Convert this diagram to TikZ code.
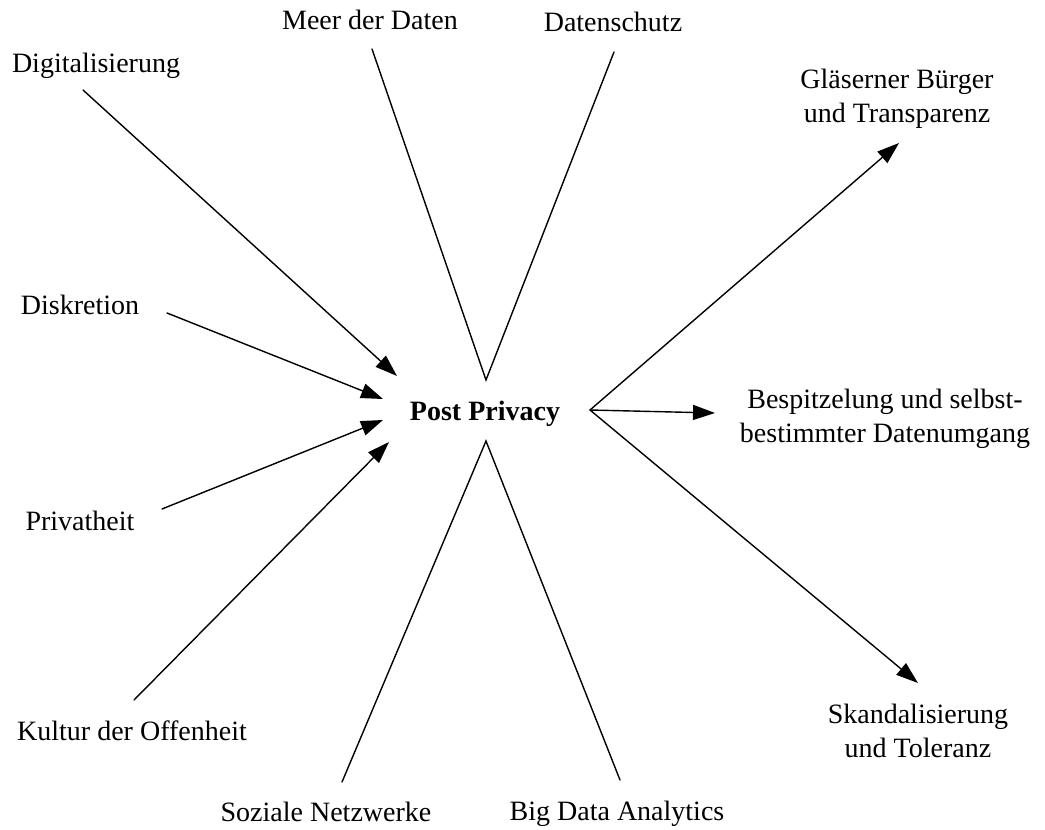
\documentclass[tikz,border=0pt]{standalone}
\usepackage{fontspec}
\setmainfont{Liberation Serif}
\usetikzlibrary{arrows.meta}
\begin{document}
\begin{tikzpicture}[x=1pt,y=-1pt,
  term/.style={inner sep=0pt, font=\fontsize{28}{34}\selectfont, align=center, anchor=base},
  core/.style={term, font=\fontsize{28}{34}\selectfont\bfseries},
  link/.style={line width=1.4pt, draw=black, line cap=round},
  flow/.style={link, -{Triangle[length=22pt,width=15pt]}}]
\useasboundingbox (0,0) rectangle (1045,830);

% central concept
\node[core] (pp) at (485,420) {Post Privacy};

% influencing terms
\node[term] (dig) at (96,72) {Digitalisierung};
\node[term] (meer) at (370,29) {Meer der Daten};
\node[term] (dschutz) at (613,31) {Datenschutz};
\node[term] (dis) at (80,314) {Diskretion};
\node[term] (pri) at (80,530) {Privatheit};
\node[term] (kul) at (132,740) {Kultur der Offenheit};
\node[term] (soz) at (326,821) {Soziale Netzwerke};
\node[term] (big) at (617,820) {Big Data Analytics};

% consequences (base anchor sits on the last line)
\node[term] (gla) at (897,122) {Gläserner Bürger\\und Transparenz};
\node[term] (bes) at (885,442) {Bespitzelung und selbst-\\bestimmter Datenumgang};
\node[term] (ska) at (918,757) {Skandalisierung\\und Toleranz};

% connector end points
\coordinate (dig-s) at (83,90);   \coordinate (dig-t) at (397,376);
\coordinate (dis-s) at (167,313); \coordinate (dis-t) at (383,399);
\coordinate (pri-s) at (162,509); \coordinate (pri-t) at (383,420);
\coordinate (kul-s) at (134,700); \coordinate (kul-t) at (389,442);
\coordinate (top-apex) at (486,380);
\coordinate (meer-s) at (372,49); \coordinate (dschutz-s) at (614,52);
\coordinate (bot-apex) at (486,441);
\coordinate (soz-s) at (342,782); \coordinate (big-s) at (620,780);
\coordinate (out) at (590,410);
\coordinate (gla-t) at (899,143);
\coordinate (bes-t) at (715,413);
\coordinate (ska-t) at (918,683);

% arrows into the centre
\draw[flow] (dig-s) -- (dig-t);
\draw[flow] (dis-s) -- (dis-t);
\draw[flow] (pri-s) -- (pri-t);
\draw[flow] (kul-s) -- (kul-t);

% upper and lower wedges
\draw[link] (meer-s) -- (top-apex) -- (dschutz-s);
\draw[link] (soz-s) -- (bot-apex) -- (big-s);

% arrows out of the centre
\draw[flow] (out) -- (gla-t);
\draw[flow] (out) -- (bes-t);
\draw[flow] (out) -- (ska-t);
\end{tikzpicture}
\end{document}
